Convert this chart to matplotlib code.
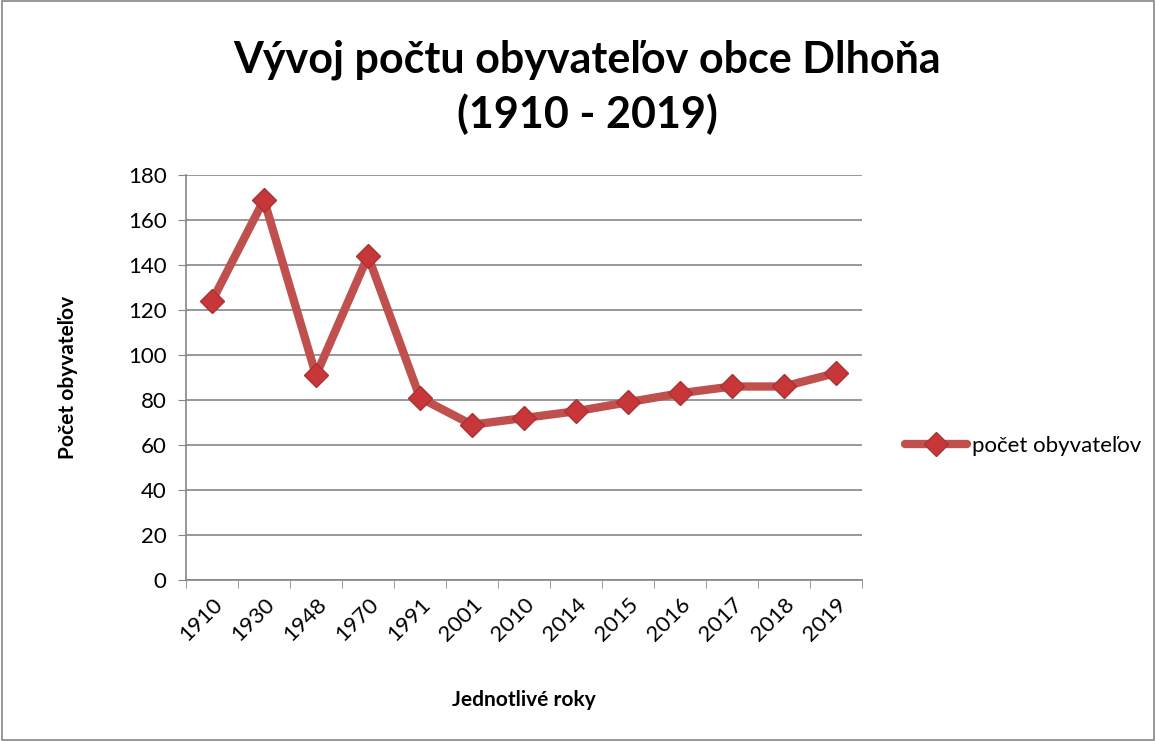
import matplotlib.pyplot as plt
import numpy as np

# data
roky = ["1910", "1930", "1948", "1970", "1991", "2001", "2010",
        "2014", "2015", "2016", "2017", "2018", "2019"]
obyvatelia = [124, 169, 91, 144, 81, 69, 72, 75, 79, 83, 86, 86, 92]
y_ticks = [0, 20, 40, 60, 80, 100, 120, 140, 160, 180]

plt.rcParams["font.family"] = ["Lato", "DejaVu Sans"]

W, H = 1156, 741
fig = plt.figure(figsize=(W / 100, H / 100), dpi=100)
ax = fig.add_axes([186 / W, 1 - 580 / H, (862 - 186) / W, (580 - 175) / H])

x = np.arange(len(roky))
ax.plot(x, obyvatelia, color="#C0504D", lw=6, solid_capstyle="round",
        marker="D", markersize=12, markerfacecolor="#C8363A",
        markeredgecolor="#A83232", markeredgewidth=1, label="počet obyvateľov",
        zorder=3)

ax.set_xlim(-0.5, len(roky) - 0.5)
ax.set_ylim(0, 180)
ax.set_yticks(y_ticks)
ax.set_xticks(x)
ax.set_xticklabels(roky, rotation=45, ha="right", rotation_mode="anchor",
                   fontsize=16)
ax.tick_params(axis="x", length=0, pad=10)
ax.set_xticks(np.arange(-0.5, len(roky), 1), minor=True)
ax.tick_params(axis="x", which="minor", length=6, color="#868686", direction="out")
ax.tick_params(axis="y", labelsize=16, length=6, color="#868686", pad=8)

ax.grid(axis="y", color="#868686", lw=1.2)
ax.set_axisbelow(True)
for s in ["top", "right"]:
    ax.spines[s].set_visible(False)
for s in ["left", "bottom"]:
    ax.spines[s].set_color("#868686")
    ax.spines[s].set_linewidth(1.2)

ax.set_ylabel("Počet obyvateľov", fontsize=15, fontweight="bold", labelpad=36)
ax.set_xlabel("Jednotlivé roky", fontsize=15, fontweight="bold", labelpad=33)

fig.text(587 / W, 1 - 60 / H, "Vývoj počtu obyvateľov obce Dlhoňa",
         ha="center", va="center", fontsize=31, fontweight="bold")
fig.text(587 / W, 1 - 114 / H, "(1910 - 2019)",
         ha="center", va="center", fontsize=31, fontweight="bold")

leg = fig.legend(loc="center left", bbox_to_anchor=(885 / W, 1 - 446 / H),
                 frameon=False, fontsize=16, handlelength=2.8,
                 handletextpad=0.2)

# outer border of the chart area
fig.patches.append(plt.Rectangle((0.002, 0.002), 0.996, 0.996,
                                 transform=fig.transFigure, fill=False,
                                 edgecolor="#868686", lw=1.2))

fig.savefig("out.png", dpi=100)
